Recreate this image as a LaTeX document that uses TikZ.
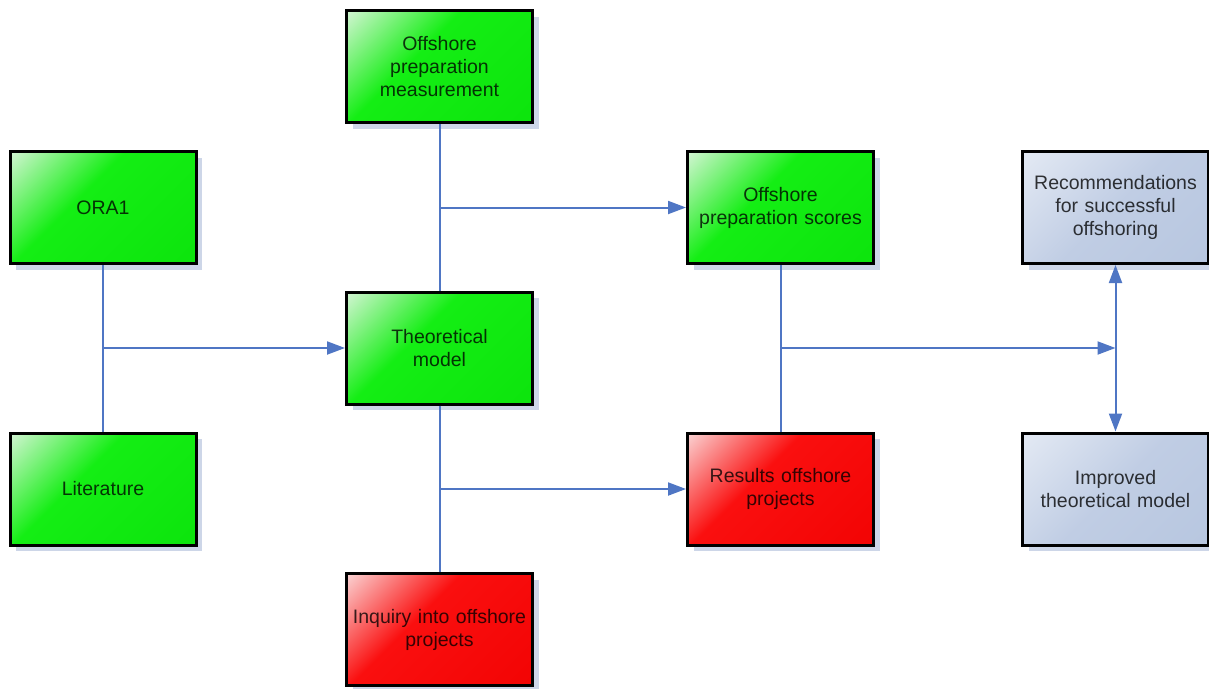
\documentclass[tikz,border=0pt]{standalone}
\usepackage{fontspec}
\setmainfont{Liberation Sans}
\usetikzlibrary{arrows.meta,shadows}

% box colours: light corner and body
\definecolor{gLight}{RGB}{215,245,215}
\definecolor{gBody}{RGB}{20,238,20}
\definecolor{gDark}{RGB}{10,225,10}
\definecolor{rLight}{RGB}{250,215,215}
\definecolor{rBody}{RGB}{250,15,15}
\definecolor{rDark}{RGB}{240,0,0}
\definecolor{bLight}{RGB}{228,234,244}
\definecolor{bBody}{RGB}{192,205,228}
\definecolor{bDark}{RGB}{180,196,222}
\definecolor{linkblue}{RGB}{79,118,196}
\definecolor{shadowblue}{RGB}{205,214,232}

\pgfdeclarehorizontalshading{greenfade}{100bp}{color(0bp)=(gLight); color(14bp)=(gLight); color(42bp)=(gBody); color(100bp)=(gDark)}
\pgfdeclarehorizontalshading{redfade}{100bp}{color(0bp)=(rLight); color(14bp)=(rLight); color(42bp)=(rBody); color(100bp)=(rDark)}
\pgfdeclarehorizontalshading{bluefade}{100bp}{color(0bp)=(bLight); color(14bp)=(bLight); color(50bp)=(bBody); color(100bp)=(bDark)}

\tikzset{
  box/.style={rectangle, draw=black, line width=3pt,
    minimum width=183pt, minimum height=112pt, inner sep=2pt,
    align=center, text width=182pt,
    font=\fontsize{19.5}{23}\selectfont, text=black, text opacity=0.78,
    shading angle=-45,
    drop shadow={shadow xshift=6pt, shadow yshift=-6pt, fill=shadowblue, opacity=1}},
  greenbox/.style={box, shading=greenfade},
  redbox/.style={box, shading=redfade},
  bluebox/.style={box, shading=bluefade},
  link/.style={draw=linkblue, line width=2pt},
  arrow/.style={link, -{Triangle[length=18pt,width=13pt]}},
  twoway/.style={link, {Triangle[length=18pt,width=13pt]}-{Triangle[length=18pt,width=13pt]}}
}

\begin{document}
\begin{tikzpicture}[x=1pt,y=-1pt]
  \useasboundingbox (0,0) rectangle (1209,688);

  \node[greenbox] (ora)    at (103,207.5)   {ORA1};
  \node[greenbox] (lit)    at (103,489)     {Literature};
  \node[greenbox] (meas)   at (439.5,66.5)  {Offshore\\preparation\\measurement};
  \node[greenbox] (theo)   at (439.5,348)   {Theoretical\\model};
  \node[redbox]   (inq)    at (439.5,629.5) {Inquiry into offshore\\projects};
  \node[greenbox] (scores) at (780.5,207.5) {Offshore\\preparation scores};
  \node[redbox]   (res)    at (780.5,489)   {Results offshore\\projects};
  \node[bluebox]  (rec)    at (1115.5,207.5) {Recommendations\\for successful\\offshoring};
  \node[bluebox]  (imp)    at (1115.5,489)   {Improved\\theoretical model};

  % junction points on the vertical trunks
  \coordinate (jsrc)  at (ora.south |- theo.west);
  \coordinate (jmeas) at (meas.south |- scores.west);
  \coordinate (jtheo) at (theo.south |- res.west);
  \coordinate (jsc)   at (scores.south |- theo.east);
  \coordinate (jout)  at (rec.south |- theo.east);

  \draw[link] (ora.south) -- (lit.north);
  \draw[arrow] (jsrc) -- (theo.west);

  \draw[link] (meas.south) -- (theo.north);
  \draw[arrow] (jmeas) -- (scores.west);

  \draw[link] (theo.south) -- (inq.north);
  \draw[arrow] (jtheo) -- (res.west);

  \draw[link] (scores.south) -- (res.north);
  \draw[arrow] (jsc) -- (jout);
  \draw[twoway] (rec.south) -- (imp.north);
\end{tikzpicture}
\end{document}
